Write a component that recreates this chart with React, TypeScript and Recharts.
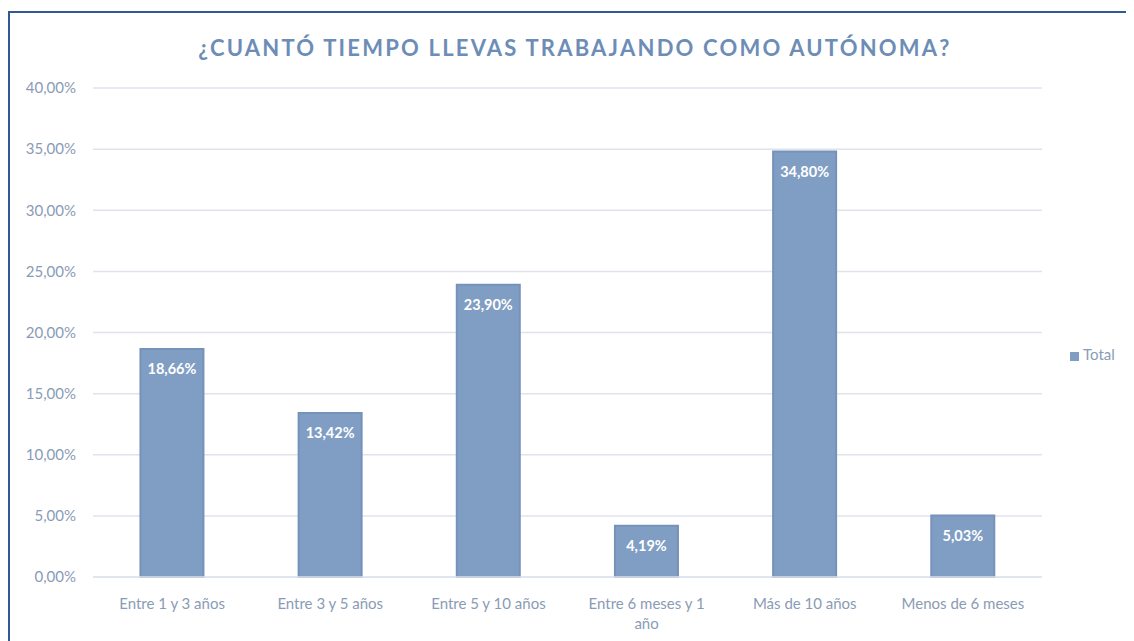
import React from 'react';
import {
  BarChart,
  Bar,
  XAxis,
  YAxis,
  CartesianGrid,
  Legend,
  LabelList,
  Text
} from 'recharts';

const categories = [
  'Entre 1 y 3 años',
  'Entre 3 y 5 años',
  'Entre 5 y 10 años',
  'Entre 6 meses y 1 año',
  'Más de 10 años',
  'Menos de 6 meses'
];
const totals = [18.66, 13.42, 23.9, 4.19, 34.8, 5.03];
const yTicks = [0, 5, 10, 15, 20, 25, 30, 35, 40];

const data = categories.map((name, i) => ({ name, Total: totals[i] }));

const FONT = 'Lato, "Open Sans", sans-serif';
const TEXT_COLOR = '#8a9bb5';
const BAR_COLOR = '#809ec3';

const pct = (v: number) => v.toFixed(2).replace('.', ',') + '%';

const CategoryTick = (props: any) => {
  const { x, y, payload } = props;
  return (
    <Text
      x={x}
      y={y + 13}
      width={132}
      textAnchor="middle"
      verticalAnchor="start"
      fill={TEXT_COLOR}
      fontSize={15}
      fontFamily={FONT}
      lineHeight={20}
    >
      {payload.value}
    </Text>
  );
};

export default function App() {
  return (
    <div
      style={{
        position: 'relative',
        marginTop: 3,
        width: 1140,
        height: 640,
        borderTop: '2px solid #2f5a96',
        borderLeft: '2px solid #2f5a96',
        background: '#fff'
      }}
    >
      <div
        style={{
          position: 'absolute',
          top: 21,
          left: 8,
          width: 1114,
          textAlign: 'center',
          fontFamily: FONT,
          fontWeight: 700,
          fontSize: 22,
          letterSpacing: 2.2,
          color: '#6d8db7'
        }}
      >
        ¿CUANTÓ TIEMPO LLEVAS TRABAJANDO COMO AUTÓNOMA?
      </div>
      <BarChart
        width={1120}
        height={625}
        data={data}
        margin={{ top: 75, right: 8, bottom: 31, left: 13 }}
        barCategoryGap="30%"
      >
        <CartesianGrid vertical={false} stroke="#dfe4ec" strokeWidth={1.5} />
        <XAxis
          dataKey="name"
          axisLine={{ stroke: '#dfe4ec', strokeWidth: 1.5 }}
          tickLine={false}
          interval={0}
          tick={<CategoryTick />}
          height={30}
        />
        <YAxis
          width={70}
          domain={[0, 40]}
          ticks={yTicks}
          tickFormatter={pct}
          axisLine={false}
          tickLine={false}
          dx={-9}
          tick={{ fill: TEXT_COLOR, fontSize: 15, fontFamily: FONT }}
        />
        <Legend
          layout="vertical"
          align="right"
          verticalAlign="top"
          iconType="square"
          iconSize={9}
          wrapperStyle={{ top: 332, left: 1060, width: 80, fontFamily: FONT, fontSize: 15 }}
          formatter={(v: string) => <span style={{ color: TEXT_COLOR }}>{v}</span>}
        />
        <Bar
          dataKey="Total"
          fill={BAR_COLOR}
          stroke="#7592bb"
          strokeWidth={2}
          isAnimationActive={false}
        >
          <LabelList
            dataKey="Total"
            position="insideTop"
            offset={15}
            formatter={(v: any) => pct(Number(v))}
            fill="#ffffff"
            fontWeight={700}
            fontSize={14.5}
            fontFamily={FONT}
          />
        </Bar>
      </BarChart>
    </div>
  );
}
